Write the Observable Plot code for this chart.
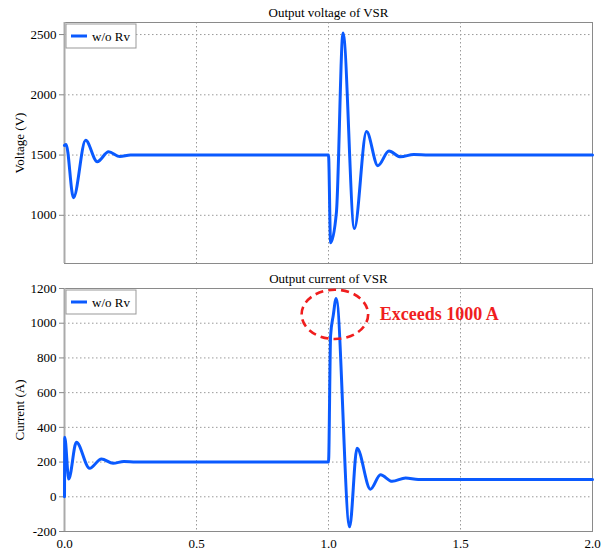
<!DOCTYPE html>
<html><head><meta charset="utf-8">
<script src="https://cdn.jsdelivr.net/npm/d3@7"></script>
<script src="https://cdn.jsdelivr.net/npm/@observablehq/plot@0.6"></script>
<style>
body{margin:0;background:#fff}
#chart svg{display:block}
</style>
</head><body><div id="chart"></div>
<script>
// ---- data ----
const timeV   = [0, 0.006, 0.034, 0.080, 0.124, 0.167, 0.210, 0.250, 0.40, 0.60, 0.80, 0.999, 1.000, 1.008, 1.030, 1.055, 1.098, 1.144, 1.187, 1.229, 1.273, 1.323, 1.38, 1.6, 1.8, 2.0];
const voltage = [1580, 1588, 1146, 1622, 1445, 1527, 1487, 1500, 1500, 1500, 1500, 1500, 1500, 773, 1025, 2513, 890, 1695, 1412, 1533, 1485, 1505, 1500, 1500, 1500, 1500];

const timeI   = [0, 0.001, 0.016, 0.045, 0.095, 0.140, 0.184, 0.225, 0.27, 0.5, 0.999, 1.000, 1.008, 1.018, 1.029, 1.080, 1.108, 1.159, 1.197, 1.241, 1.292, 1.34, 1.6, 2.0];
const current = [0, 343, 102, 314, 164, 218, 193, 204, 200, 200, 200, 200, 930, 1045, 1143, -173, 279, 44, 127, 89, 108, 100, 100, 100];

const xTicks = [0, 0.5, 1.0, 1.5, 2.0];
const vTicks = [1000, 1500, 2000, 2500];
const iTicks = [-200, 0, 200, 400, 600, 800, 1000, 1200];
const seriesName = "w/o Rv";
const titles = ["Output voltage of VSR", "Output current of VSR"];
const yLabels = ["Voltage (V)", "Current (A)"];
const annotText = "Exceeds 1000 A";
const annotEllipse = {t: 1.026, a: 1048, dt: 0.126, da: 142};
const annotTextPos = {t: 1.194, a: 1050};

// ---- styling ----
const BLUE = "#0a5aff";
const RED = "#f01e1e";
const GRID = {stroke: "#9a9a9a", strokeOpacity: 1, strokeDasharray: "1.5,2.5"};
const FONT = "'Liberation Serif', 'Times New Roman', serif";

const vData = timeV.map((t, i) => ({t, v: voltage[i]}));
const iData = timeI.map((t, i) => ({t, v: current[i]}));

function legend(index, scales, values, dim) {
  const g = d3.create("svg:g");
  const x0 = dim.marginLeft + 2, y0 = dim.marginTop + 2;
  g.append("rect").attr("x", x0).attr("y", y0).attr("width", 70).attr("height", 24)
    .attr("fill", "white").attr("stroke", "#999").attr("stroke-width", 1);
  g.append("line").attr("x1", x0 + 5).attr("x2", x0 + 21).attr("y1", y0 + 12).attr("y2", y0 + 12)
    .attr("stroke", BLUE).attr("stroke-width", 3);
  g.append("text").attr("x", x0 + 26).attr("y", y0 + 12).attr("dy", "0.35em")
    .attr("text-anchor", "start").attr("font-size", 13).attr("fill", "black").text(seriesName);
  return g.node();
}

function ellipse(index, scales) {
  const {x, y} = scales;
  const cx = x(annotEllipse.t), cy = y(annotEllipse.a);
  const rx = x(annotEllipse.t + annotEllipse.dt) - cx;
  const ry = y(annotEllipse.a - annotEllipse.da) - cy;
  return d3.create("svg:ellipse").attr("cx", cx).attr("cy", cy).attr("rx", rx).attr("ry", ry)
    .attr("fill", "none").attr("stroke", RED).attr("stroke-width", 2.6)
    .attr("stroke-dasharray", "8,5").node();
}

const common = {
  width: 605,
  marginLeft: 64,
  marginRight: 13,
  style: {fontFamily: FONT, fontSize: "13px", background: "white", color: "black", overflow: "visible"}
};

const topPlot = Plot.plot({
  ...common,
  height: 270,
  marginTop: 22,
  marginBottom: 7,
  x: {domain: [0, 2], axis: null},
  y: {domain: [600, 2600]},
  marks: [
    Plot.gridY(vTicks, GRID),
    Plot.gridX(xTicks.slice(1, -1), GRID),
    Plot.frame({stroke: "#8a8a8a"}),
    Plot.ruleX([0], {stroke: "#aaa", strokeWidth: 2}),
    Plot.axisY(vTicks, {tickSize: 5, tickPadding: 3, stroke: "#888", tickFormat: d => String(d),
      label: yLabels[0], labelAnchor: "center", labelOffset: 50, labelArrow: "none"}),
    Plot.line(vData, {x: "t", y: "v", stroke: BLUE, strokeWidth: 3, curve: "monotone-x"}),
    Plot.text([titles[0]], {frameAnchor: "top", dy: -10, lineAnchor: "middle", fontSize: 13}),
    legend
  ]
});

const bottomPlot = Plot.plot({
  ...common,
  height: 284,
  marginTop: 18,
  marginBottom: 23,
  x: {domain: [0, 2]},
  y: {domain: [-200, 1200]},
  marks: [
    Plot.gridY(iTicks.slice(1, -1), GRID),
    Plot.gridX(xTicks.slice(1, -1), GRID),
    Plot.frame({stroke: "#8a8a8a"}),
    Plot.ruleX([0], {stroke: "#aaa", strokeWidth: 2}),
    Plot.axisY(iTicks, {tickSize: 5, tickPadding: 3, stroke: "#888", tickFormat: d => String(d),
      label: yLabels[1], labelAnchor: "center", labelOffset: 50, labelArrow: "none"}),
    Plot.axisX(xTicks, {tickSize: 0, tickPadding: 7, tickFormat: d => d.toFixed(1), label: null}),
    Plot.line(iData, {x: "t", y: "v", stroke: BLUE, strokeWidth: 3, curve: "monotone-x"}),
    Plot.text([titles[1]], {frameAnchor: "top", dy: -10, lineAnchor: "middle", fontSize: 13}),
    ellipse,
    Plot.text([annotTextPos], {x: "t", y: "a", text: () => annotText, textAnchor: "start", lineAnchor: "middle",
      fill: RED, fontWeight: "bold", fontSize: 18}),
    legend
  ]
});

document.getElementById("chart").append(topPlot, bottomPlot);
</script>
</body></html>
